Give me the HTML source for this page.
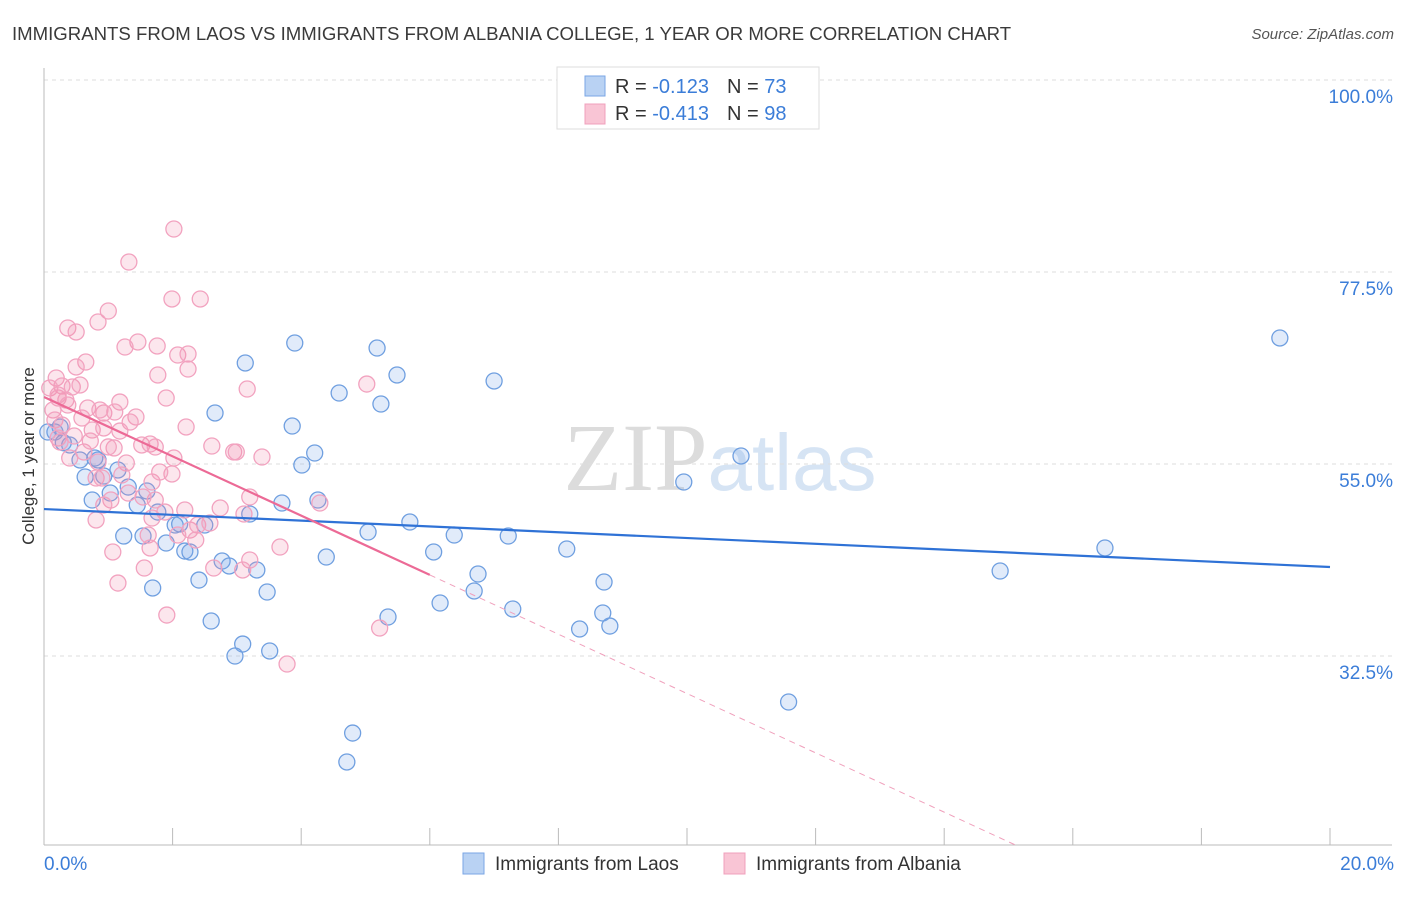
<!DOCTYPE html>
<html><head><meta charset="utf-8"><style>
body{margin:0;background:#fff;font-family:"Liberation Sans",sans-serif}
svg text{font-family:"Liberation Sans",sans-serif}
</style></head><body>
<svg id="chart" width="1406" height="892" viewBox="0 0 1406 892" xmlns="http://www.w3.org/2000/svg">
<text x="12" y="40" font-size="18.6" fill="#3a3a3a">IMMIGRANTS FROM LAOS VS IMMIGRANTS FROM ALBANIA COLLEGE, 1 YEAR OR MORE CORRELATION CHART</text>
<text x="1394" y="39" font-size="15" fill="#555" font-style="italic" text-anchor="end">Source: ZipAtlas.com</text>
<text x="720" y="490" font-size="96" text-anchor="middle"><tspan fill="#dcdcdc" font-family="Liberation Serif">ZIP</tspan><tspan fill="#d6e4f4" font-size="80">atlas</tspan></text>
<g id="grid"></g>
<g id="axes"></g>
<g id="pts"></g>
<g id="trends"></g>
<text transform="translate(34,456) rotate(-90)" font-size="17" fill="#333" text-anchor="middle">College, 1 year or more</text>
<text x="44" y="870" font-size="19" fill="#3b7dd8">0.0%</text>
<text x="1394" y="870" font-size="19" fill="#3b7dd8" text-anchor="end">20.0%</text>
<g>
<rect x="557" y="67" width="262" height="62" fill="#fff" stroke="#ddd"/>
<rect x="585" y="76" width="20" height="20" fill="#b9d2f3" stroke="#7aa6e4"/>
<rect x="585" y="104" width="20" height="20" fill="#f9c5d5" stroke="#f0a0bc"/>
<text x="615" y="93" font-size="20" fill="#333">R = <tspan fill="#3b7dd8">-0.123</tspan><tspan dx="18">N = </tspan><tspan fill="#3b7dd8">73</tspan></text>
<text x="615" y="120" font-size="20" fill="#333">R = <tspan fill="#3b7dd8">-0.413</tspan><tspan dx="18">N = </tspan><tspan fill="#3b7dd8">98</tspan></text>
</g>
<g>
<rect x="463" y="853" width="21" height="21" fill="#b9d2f3" stroke="#7aa6e4"/>
<text x="495" y="870" font-size="19" fill="#333">Immigrants from Laos</text>
<rect x="724" y="853" width="21" height="21" fill="#f9c5d5" stroke="#f0a0bc"/>
<text x="756" y="870" font-size="19" fill="#333">Immigrants from Albania</text>
</g>
</svg>
<script>
const yTicks=[100,77.5,55,32.5];
const yTickLabels=["100.0%","77.5%","55.0%","32.5%"];
const xTicks=[0,2,4,6,8,10,12,14,16,18,20];
const laosX=[19.22,3.90,5.18,3.13,5.49,7.00,4.59,5.24,2.66,3.86,4.21,4.01,10.84,9.95,0.17,0.25,0.40,0.56,0.84,1.15,0.64,0.93,1.31,1.60,1.03,0.75,1.45,1.77,2.04,2.11,2.50,3.20,3.70,4.26,5.69,5.04,6.38,7.22,8.13,6.06,4.39,2.19,2.27,1.90,1.54,1.24,2.77,2.88,3.31,6.75,2.41,8.71,1.69,3.47,6.69,6.16,7.29,8.69,5.35,2.60,8.80,8.33,3.09,3.51,2.97,11.58,4.80,4.71,16.50,14.87,0.06,0.79,0.30];
const laosY=[69.77,69.18,68.59,66.84,65.43,64.73,63.32,62.03,60.98,59.45,56.29,54.88,55.94,52.89,58.75,59.34,57.23,55.47,55.47,54.30,53.48,53.59,52.30,51.84,51.60,50.78,50.19,49.37,47.85,47.97,47.85,49.14,50.43,50.78,48.20,47.03,46.68,46.56,45.04,44.69,44.10,44.80,44.69,45.74,46.56,46.56,43.63,43.05,42.58,42.11,41.40,41.17,40.47,40.00,40.12,38.71,38.01,37.54,37.07,36.60,36.01,35.66,33.90,33.09,32.50,27.11,23.47,20.08,45.16,42.46,58.75,55.70,57.5];
const albX=[2.02,1.32,1.99,2.43,1.00,0.84,0.37,0.50,1.46,1.76,1.26,2.08,2.24,0.65,0.50,1.77,2.24,3.16,5.02,0.19,0.28,0.44,0.09,0.22,0.34,0.14,0.68,0.93,1.18,1.90,0.17,0.28,0.59,0.87,1.10,1.43,0.75,0.93,0.22,0.47,0.62,1.09,1.52,1.65,1.73,2.21,2.61,2.95,3.39,2.02,0.84,1.28,1.21,0.81,1.68,1.99,1.31,1.73,1.54,1.04,2.19,0.93,3.20,2.74,3.11,4.29,2.27,1.68,1.88,2.39,1.62,2.08,1.07,2.58,3.67,3.20,1.56,3.09,1.15,1.91,5.22,3.78,2.99,0.22,0.37,0.56,0.72,0.25,1.34,0.81,0.40,1.00,1.80,2.64,2.36,1.65,0.90,1.18];
const albY=[82.54,78.67,74.34,74.34,72.93,71.64,70.94,70.47,69.30,68.83,68.71,67.77,67.89,66.95,66.37,65.43,66.13,63.79,64.37,65.08,64.14,64.02,63.91,62.73,62.50,61.33,61.56,60.98,62.26,62.73,60.16,59.57,60.39,61.33,61.09,60.51,58.98,59.22,58.05,58.28,56.41,56.88,57.23,57.34,56.99,59.34,57.11,56.41,55.82,55.70,55.23,55.12,53.71,53.36,52.89,53.83,51.60,50.78,51.13,50.78,49.61,50.19,51.13,49.84,49.14,50.43,47.26,48.67,49.37,47.85,46.68,46.68,44.69,48.08,45.27,43.75,42.81,42.58,41.05,37.30,35.78,31.56,56.41,63.09,61.91,64.26,57.69,57.58,59.92,48.44,55.70,57.00,54.06,42.81,46.09,45.16,53.36,58.86];
const laosTrend=[49.72,42.93];
const albTrend=[62.85,-3.475];
const albSolidEnd=6.0;

const X0=44,X1=1330,YTOP=80,PPU=192/22.5,YMIN=100-(845-80)/PPU;
const sx=v=>X0+(v/20)*(X1-X0);
const sy=v=>YTOP+(100-v)*PPU;
const NS="http://www.w3.org/2000/svg";
function mk(tag,attrs,parent){const e=document.createElementNS(NS,tag);for(const k in attrs)e.setAttribute(k,attrs[k]);parent.appendChild(e);return e;}
const grid=document.getElementById('grid'),axes=document.getElementById('axes'),pts=document.getElementById('pts'),tr=document.getElementById('trends');
yTicks.forEach((t,i)=>{
 const l=mk('line',{x1:X0,x2:1392,y1:sy(t),y2:sy(t),stroke:'#dedede','stroke-dasharray':'4,4'},grid);
 
 
 const tx=mk('text',{x:1393,y:sy(t)+23,'font-size':19,fill:'#3b7dd8','text-anchor':'end'},grid);
 tx.textContent=yTickLabels[i];
 
 
});
const ya=mk('line',{x1:X0,x2:X0,y1:68,y2:845,stroke:'#bbb'},axes);


const xa=mk('line',{x1:X0,x2:1392,y1:845,y2:845,stroke:'#bbb'},axes);


xTicks.forEach(t=>{
 const l=mk('line',{x1:sx(t),x2:sx(t),y1:828,y2:845,stroke:'#bbb'},axes);
 
 
});
function dots(xs,ys,fill,stroke,name){
 xs.forEach((x,i)=>{
  const c=mk('circle',{cx:sx(x),cy:sy(ys[i]),r:8,fill:fill,stroke:stroke,'stroke-width':1.3},pts);
  
  
 });
}
dots(laosX,laosY,'rgba(120,165,230,0.22)','#6f9fe0','laos-point');
dots(albX,albY,'rgba(240,140,175,0.22)','#f2a2bf','albania-point');
const lt=mk('line',{x1:sx(0),y1:sy(laosTrend[0]),x2:sx(20),y2:sy(laosTrend[1]),stroke:'#2f72d6','stroke-width':2.2},tr);


const ay=x=>albTrend[0]+albTrend[1]*x;
const at=mk('line',{x1:sx(0),y1:sy(ay(0)),x2:sx(albSolidEnd),y2:sy(ay(albSolidEnd)),stroke:'#ec6a96','stroke-width':2.2},tr);


const xEnd=(YMIN-albTrend[0])/albTrend[1];
const ad=mk('line',{x1:sx(albSolidEnd),y1:sy(ay(albSolidEnd)),x2:sx(xEnd),y2:sy(ay(xEnd)),stroke:'#f0a0bc','stroke-width':1,'stroke-dasharray':'6,5'},tr);


</script>
</body></html>
